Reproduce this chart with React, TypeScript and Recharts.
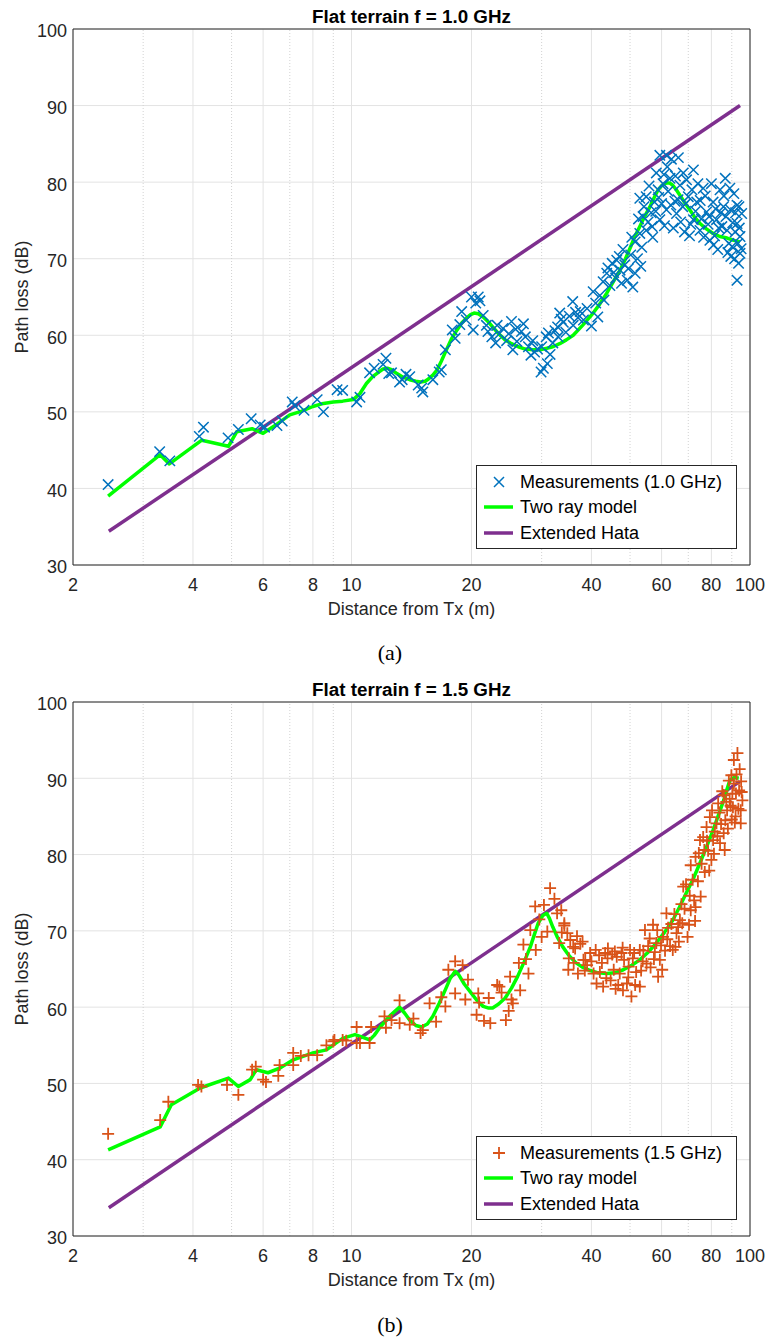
import React from 'react';
import { ComposedChart, Scatter, Line, XAxis, YAxis, CartesianGrid, ReferenceLine } from 'recharts';

// Path loss vs distance, flat terrain, 1.0 GHz (a) and 1.5 GHz (b).
// Each point is [distance m, path loss dB].

const xTicks = [2, 4, 6, 8, 10, 20, 40, 60, 80, 100];
const xMinor = [3, 5, 7, 9, 30, 50, 70, 90];
const yTicks = [30, 40, 50, 60, 70, 80, 90, 100];

const meas10: [number, number][] = [
  [2.45, 40.5], [3.3, 44.8], [3.5, 43.6], [4.15, 46.8], [4.25, 48.0], [4.9, 46.6], [5.2, 47.7], [5.6, 49.1],
  [5.9, 48.3], [6.05, 48.0], [6.5, 48.2], [6.7, 48.8], [7.1, 51.3], [7.2, 50.8], [7.6, 50.2], [8.2, 51.6],
  [8.5, 50.0], [9.2, 52.9], [9.5, 52.8], [10.3, 51.3], [10.5, 51.9], [11.1, 55.1], [11.4, 55.7], [12.0, 56.2],
  [12.2, 57.0], [12.4, 55.0], [12.6, 55.1], [13.2, 53.9], [13.4, 54.2], [13.7, 54.9], [14.0, 54.6], [14.7, 53.5],
  [15.0, 53.1], [15.1, 52.6], [16.0, 54.2], [16.6, 55.2], [16.8, 55.5], [17.2, 58.1], [17.9, 60.7], [18.2, 59.6],
  [18.7, 61.4], [18.9, 63.1], [19.4, 62.0], [20.0, 65.0], [20.2, 60.7], [20.5, 64.2], [20.8, 65.0], [21.0, 64.5],
  [21.4, 62.6], [21.8, 61.3], [22.0, 60.5], [22.5, 59.8], [23.0, 59.0], [23.2, 61.3], [23.5, 60.2], [24.0, 60.9],
  [24.5, 59.3], [24.8, 60.2], [25.2, 61.8], [25.4, 58.1], [25.8, 60.8], [26.0, 59.2], [26.7, 60.5], [27.0, 61.5],
  [27.3, 59.8], [27.8, 58.5], [28.2, 57.4], [28.5, 59.3], [28.8, 57.8], [29.3, 58.2], [29.9, 55.2], [30.0, 58.5],
  [30.3, 55.7], [30.8, 59.8], [31.0, 56.3], [31.2, 60.3], [31.5, 57.5], [32.0, 59.0], [32.4, 60.6], [32.9, 61.1],
  [33.0, 59.8], [33.3, 62.9], [33.6, 62.1], [34.0, 61.7], [34.5, 60.4], [35.2, 62.5], [35.9, 64.4], [36.0, 61.3],
  [36.5, 63.0], [37.0, 62.3], [37.5, 63.1], [38.2, 62.0], [39.0, 63.5], [40.0, 61.2], [40.4, 65.7], [41.0, 64.2],
  [41.5, 62.4], [42.0, 65.2], [42.8, 67.0], [43.0, 64.6], [43.7, 68.1], [44.0, 68.8], [44.5, 66.5], [45.1, 69.4],
  [45.5, 68.2], [46.0, 67.5], [46.3, 69.8], [47.0, 70.3], [47.2, 68.5], [47.6, 66.8], [48.0, 71.2], [48.5, 69.2],
  [49.2, 67.2], [49.5, 68.7], [50.2, 70.5], [50.5, 72.8], [50.8, 66.3], [51.5, 72.2], [51.5, 68.1], [52.2, 70.0],
  [52.5, 75.2], [52.9, 73.3], [52.9, 77.9], [53.2, 69.0], [53.5, 71.5], [53.9, 75.5], [54.2, 76.8], [54.9, 78.1],
  [54.9, 73.7], [55.5, 74.8], [55.8, 79.5], [56.5, 76.0], [56.8, 74.2], [57.0, 72.8], [57.6, 77.4], [58.0, 76.2],
  [58.2, 81.2], [58.8, 79.0], [59.0, 78.0], [59.4, 83.5], [59.4, 75.1], [60.0, 77.2], [60.5, 79.8], [60.8, 81.0],
  [61.0, 74.3], [61.7, 83.5], [61.7, 76.4], [62.0, 82.0], [62.3, 78.8], [63.0, 80.5], [63.3, 77.0], [63.5, 83.0],
  [64.2, 74.0], [64.8, 77.5], [65.0, 80.8], [65.4, 75.9], [66.0, 77.7], [66.1, 83.2], [66.7, 79.6], [67.0, 74.8],
  [67.8, 76.8], [68.0, 81.2], [68.5, 73.5], [69.0, 77.2], [69.3, 80.3], [70.0, 78.1], [70.5, 73.0], [71.0, 74.5],
  [71.5, 79.0], [72.1, 81.6], [72.1, 75.1], [73.0, 76.2], [73.5, 77.4], [74.0, 79.8], [74.9, 73.7], [75.0, 77.6],
  [75.5, 75.2], [76.3, 79.2], [76.5, 72.8], [77.2, 78.2], [77.8, 76.1], [78.5, 74.5], [79.0, 75.5], [79.3, 72.4],
  [80.0, 79.8], [80.8, 77.4], [81.0, 71.8], [81.5, 73.0], [82.0, 76.5], [82.4, 75.1], [83.0, 71.2], [83.5, 74.0],
  [84.1, 79.0], [84.5, 76.0], [85.0, 74.2], [85.8, 76.8], [86.0, 78.2], [86.7, 80.5], [87.0, 75.5], [87.6, 73.7],
  [88.0, 70.8], [88.5, 72.0], [89.0, 79.2], [89.3, 76.4], [89.5, 70.3], [90.2, 71.6], [90.5, 74.7], [91.1, 78.5],
  [91.5, 70.0], [91.8, 73.5], [92.0, 76.0], [92.8, 74.6], [92.8, 67.2], [92.8, 77.0], [93.2, 72.0], [93.6, 69.4],
  [93.8, 76.8], [94.0, 74.0], [94.4, 72.9], [94.4, 70.7], [95.0, 71.3], [95.3, 75.9],
];

const tworay10: [number, number][] = [
  [2.45, 39.0], [3.31, 44.4], [3.49, 43.2], [4.21, 46.3], [4.91, 45.5], [5.15, 47.4], [5.63, 47.8], [6.0, 47.2],
  [6.5, 48.4], [7.0, 49.6], [7.5, 50.1], [8.0, 50.7], [8.5, 51.1], [9.0, 51.3], [9.5, 51.4], [10.1, 51.6],
  [10.5, 52.4], [10.9, 53.7], [11.3, 54.6], [11.7, 55.2], [12.0, 55.6], [12.3, 55.7], [12.6, 55.5], [13.0, 55.0],
  [13.5, 54.5], [14.0, 54.2], [14.5, 54.0], [14.9, 53.9], [15.3, 54.0], [15.6, 54.3], [16.0, 54.8], [16.4, 55.5],
  [16.8, 56.6], [17.3, 58.1], [17.8, 59.5], [18.4, 60.7], [18.9, 61.6], [19.4, 62.2], [19.9, 62.7], [20.3, 62.9],
  [20.8, 62.8], [21.4, 62.4], [22.0, 61.8], [22.6, 61.1], [23.4, 60.2], [24.3, 59.4], [25.2, 58.9], [26.2, 58.5],
  [27.3, 58.2], [28.5, 58.1], [29.7, 58.1], [30.9, 58.3], [32.0, 58.5], [33.3, 58.9], [34.6, 59.4], [36.0, 60.0],
  [38.0, 61.3], [40.4, 62.9], [42.0, 64.1], [43.7, 65.5], [45.4, 67.0], [47.2, 68.5], [48.7, 70.0], [50.2, 71.6],
  [51.5, 73.0], [52.9, 74.2], [54.5, 75.6], [56.1, 76.8], [57.5, 78.0], [58.8, 79.0], [60.2, 79.6], [61.7, 79.9],
  [62.8, 79.9], [64.0, 79.6], [65.3, 79.0], [66.7, 78.3], [68.6, 77.3], [70.6, 76.4], [72.7, 75.4], [74.9, 74.6],
  [77.7, 73.9], [80.8, 73.3], [84.0, 72.9], [87.6, 72.7], [91.0, 72.4], [94.4, 72.2],
];

const hata10: [number, number][] = [[2.46, 34.4], [94.4, 90.0]];

const meas15: [number, number][] = [
  [2.45, 43.4], [3.31, 45.2], [3.47, 47.6], [4.12, 49.8], [4.2, 49.6], [4.87, 49.8], [5.2, 48.5], [5.63, 51.8],
  [5.75, 52.2], [6.0, 50.5], [6.1, 50.2], [6.55, 51.0], [6.6, 52.4], [7.14, 54.0], [7.14, 52.4], [7.46, 53.6],
  [7.8, 53.7], [8.2, 53.7], [8.65, 55.0], [9.0, 55.5], [9.06, 55.7], [9.5, 55.7], [9.7, 55.6], [10.3, 57.4],
  [10.3, 55.3], [10.5, 55.3], [11.1, 55.3], [11.2, 57.4], [12.1, 58.8], [12.2, 57.3], [12.6, 58.3], [13.2, 60.9],
  [13.2, 57.9], [14.0, 57.7], [14.3, 58.5], [14.9, 56.6], [15.1, 57.0], [15.7, 60.5], [16.3, 58.1], [16.8, 61.3],
  [17.2, 60.1], [17.5, 64.9], [18.2, 66.0], [19.0, 65.5], [18.2, 61.8], [19.3, 61.0], [19.6, 63.6], [20.8, 61.8],
  [20.9, 60.6], [20.6, 59.0], [21.5, 58.2], [22.1, 61.2], [22.3, 57.9], [23.2, 62.9], [23.5, 62.7], [23.8, 61.9],
  [24.4, 58.3], [24.8, 59.5], [25.2, 61.0], [25.4, 60.5], [25.0, 64.0], [26.3, 65.8], [26.5, 62.2], [27.4, 66.3],
  [27.8, 64.4], [27.0, 68.2], [28.1, 70.1], [28.9, 73.2], [29.0, 67.5], [29.6, 71.5], [30.0, 69.2], [30.4, 73.4],
  [31.5, 75.6], [31.0, 69.9], [32.3, 74.2], [32.8, 72.3], [33.2, 68.4], [33.6, 72.7], [33.7, 69.8], [34.2, 70.7],
  [34.2, 71.0], [34.8, 69.7], [35.1, 66.4], [35.4, 68.8], [35.0, 64.9], [36.0, 67.9], [36.1, 65.8], [36.4, 67.7],
  [36.8, 69.3], [37.0, 64.4], [37.5, 68.3], [38.0, 68.6], [38.2, 66.2], [38.5, 64.8], [38.6, 66.2], [39.0, 65.5],
  [39.7, 67.1], [40.0, 66.0], [40.5, 64.4], [41.0, 67.5], [41.2, 63.1], [41.8, 66.8], [42.0, 64.6], [42.5, 65.8],
  [42.8, 62.7], [43.3, 67.1], [43.6, 63.8], [43.9, 66.4], [44.0, 67.7], [44.7, 63.5], [45.1, 66.9], [45.5, 64.9],
  [45.8, 67.3], [46.0, 62.4], [46.3, 66.6], [46.7, 62.9], [47.1, 64.4], [47.6, 67.1], [47.9, 67.8], [48.0, 62.2],
  [48.3, 66.2], [49.1, 63.1], [49.5, 63.9], [49.6, 65.3], [50.0, 67.5], [50.4, 61.4], [50.8, 66.4], [51.2, 67.1],
  [51.5, 62.9], [51.8, 64.6], [52.9, 62.7], [52.9, 67.5], [53.3, 64.8], [53.8, 66.0], [54.0, 67.4], [54.5, 70.1],
  [55.0, 65.7], [55.5, 68.0], [56.0, 69.0], [56.3, 65.2], [57.1, 70.8], [57.4, 66.3], [57.7, 67.2], [58.2, 68.4],
  [58.5, 70.1], [58.8, 64.0], [59.4, 66.2], [59.8, 68.1], [60.2, 64.9], [60.5, 69.2], [61.2, 67.4], [61.7, 72.3],
  [62.0, 68.9], [62.3, 70.4], [63.0, 68.0], [63.5, 70.9], [64.0, 67.5], [64.6, 72.2], [65.0, 67.9], [65.4, 69.7],
  [66.0, 70.5], [66.3, 68.6], [66.7, 71.4], [67.3, 73.5], [67.6, 71.0], [68.0, 75.8], [68.5, 72.9], [69.1, 76.1],
  [69.7, 69.2], [70.3, 70.8], [70.6, 74.6], [71.0, 72.7], [71.0, 78.6], [71.8, 76.7], [72.4, 74.0], [72.8, 71.3],
  [73.0, 73.1], [73.0, 79.7], [74.0, 76.5], [74.4, 80.2], [74.9, 81.9], [75.2, 74.5], [75.6, 78.8], [76.3, 82.3],
  [76.8, 80.6], [77.0, 77.7], [77.8, 83.6], [78.0, 81.8], [78.5, 80.5], [79.0, 77.9], [79.3, 84.9], [80.0, 79.3],
  [80.3, 85.8], [80.8, 81.9], [81.2, 80.1], [81.6, 83.0], [82.4, 84.1], [82.8, 82.4], [83.2, 86.7], [83.8, 85.5],
  [84.1, 81.5], [84.6, 84.0], [85.2, 88.3], [85.9, 82.8], [86.0, 87.8], [86.4, 80.6], [86.7, 84.5], [87.2, 86.9],
  [87.6, 85.8], [88.0, 83.4], [88.5, 89.7], [88.9, 87.3], [89.4, 86.4], [89.8, 90.4], [90.0, 84.6], [90.3, 88.0],
  [90.6, 86.2], [91.1, 92.4], [91.1, 89.3], [91.6, 84.2], [92.0, 85.0], [92.2, 88.0], [92.5, 90.5], [93.0, 93.3],
  [93.5, 86.0], [93.9, 88.4], [94.2, 91.2], [94.8, 85.8], [94.8, 84.1], [95.0, 89.6], [95.3, 88.2], [95.7, 87.1],
];

const tworay15: [number, number][] = [
  [2.45, 41.3], [3.31, 44.3], [3.53, 47.2], [4.17, 49.4], [4.91, 50.7], [5.2, 49.6], [5.57, 50.5], [5.77, 51.8],
  [6.17, 51.4], [6.6, 52.0], [7.14, 53.1], [8.0, 54.0], [8.65, 54.4], [9.5, 55.9], [10.2, 56.4], [10.6, 56.1],
  [11.1, 55.7], [11.4, 56.3], [11.8, 57.4], [12.5, 58.9], [13.2, 60.0], [13.6, 59.2], [14.0, 58.3], [14.5, 57.6],
  [15.0, 57.4], [15.5, 57.8], [16.0, 58.8], [16.6, 60.5], [17.2, 62.3], [17.7, 63.8], [18.2, 64.7], [18.6, 64.2],
  [19.2, 63.0], [20.0, 61.8], [20.7, 60.8], [21.4, 60.1], [22.0, 59.9], [22.6, 59.9], [23.4, 60.4], [24.3, 61.2],
  [25.2, 62.5], [26.1, 64.0], [27.1, 65.9], [28.1, 67.9], [28.8, 69.6], [29.4, 71.0], [30.2, 72.0], [30.9, 72.3],
  [31.4, 71.6], [32.0, 70.5], [32.9, 69.1], [33.9, 67.9], [35.2, 66.7], [36.6, 65.8], [38.1, 65.2], [39.7, 64.8],
  [41.6, 64.5], [43.7, 64.4], [45.8, 64.5], [48.1, 64.9], [50.5, 65.5], [52.9, 66.2], [55.5, 67.2], [58.2, 68.4],
  [61.0, 69.8], [64.0, 71.4], [66.5, 73.1], [69.1, 74.9], [72.0, 76.8], [74.9, 78.9], [77.8, 81.0], [80.8, 83.2],
  [83.5, 85.3], [86.0, 87.2], [87.6, 88.6], [89.1, 89.8], [91.3, 90.1], [93.7, 90.0],
];

const hata15: [number, number][] = [[2.46, 33.7], [94.4, 89.6]];

const toPts = (a: [number, number][]) => a.map(([d, v]) => ({ d, v }));

const AXIS = '#262626';
const FONT = '"Liberation Sans", Arial, Helvetica, sans-serif';

function xShape(color: string) {
  return (p: any) => {
    const { cx, cy } = p;
    const r = 5.2;
    return (
      <path
        d={`M${cx - r},${cy - r}L${cx + r},${cy + r}M${cx - r},${cy + r}L${cx + r},${cy - r}`}
        stroke={color}
        strokeWidth={1.5}
        fill="none"
      />
    );
  };
}

function plusShape(color: string) {
  return (p: any) => {
    const { cx, cy } = p;
    const r = 6;
    return (
      <path d={`M${cx - r},${cy}L${cx + r},${cy}M${cx},${cy - r}L${cx},${cy + r}`} stroke={color} strokeWidth={1.8} fill="none" />
    );
  };
}

function LegendBox({ top, label, marker, color }: { top: number; label: string; marker: 'x' | '+'; color: string }) {
  const rows = [
    { name: label, kind: marker },
    { name: 'Two ray model', kind: 'green' },
    { name: 'Extended Hata', kind: 'purple' },
  ];
  return (
    <div
      style={{
        position: 'absolute', left: 476, top, width: 259, height: 82, background: '#fff',
        border: `1px solid ${AXIS}`, fontFamily: FONT, fontSize: 18, color: '#000',
      }}
    >
      {rows.map((r, i) => (
        <div key={r.name} style={{ position: 'absolute', left: 0, top: 6 + i * 25.3, height: 20, lineHeight: '20px', width: 258 }}>
          <svg width={32} height={20} style={{ position: 'absolute', left: 6, top: 0 }}>
            {r.kind === 'x' && <path d="M11,5L21,15M11,15L21,5" stroke={color} strokeWidth={1.5} fill="none" />}
            {r.kind === '+' && <path d="M10,10L22,10M16,4L16,16" stroke={color} strokeWidth={1.8} fill="none" />}
            {r.kind === 'green' && <line x1={1} x2={30} y1={10} y2={10} stroke="#00ff00" strokeWidth={3.5} />}
            {r.kind === 'purple' && <line x1={1} x2={30} y1={10} y2={10} stroke="#7e2f8e" strokeWidth={3.5} />}
          </svg>
          <span style={{ position: 'absolute', left: 43, top: 0, whiteSpace: 'nowrap' }}>{r.name}</span>
        </div>
      ))}
    </div>
  );
}

function PathLossChart(props: {
  top: number;
  plotBottom: number;
  title: string;
  meas: [number, number][];
  tworay: [number, number][];
  hata: [number, number][];
  marker: 'x' | '+';
  color: string;
  legendLabel: string;
  legendTop: number;
}) {
  const H = 640;
  const xCommon = {
    type: 'number' as const,
    scale: 'log' as const,
    domain: [2, 100],
    ticks: xTicks,
    allowDataOverflow: true,
  };
  const yCommon = {
    type: 'number' as const,
    domain: [30, 100],
    ticks: yTicks,
    allowDataOverflow: true,
  };
  return (
    <div style={{ position: 'absolute', left: 0, top: props.top, width: 767, height: H }}>
      <div
        style={{
          position: 'absolute', left: 73, width: 677, top: 8, textAlign: 'center', fontFamily: FONT,
          fontWeight: 'bold', fontSize: 18.8, lineHeight: '18px', color: '#000', whiteSpace: 'nowrap',
        }}
      >
        {props.title}
      </div>
      <ComposedChart
        width={767}
        height={H}
        margin={{ top: 29, right: 17, left: 13, bottom: H - props.plotBottom - 30 }}
        style={{ fontFamily: FONT }}
      >
        <CartesianGrid stroke="#e3e3e3" strokeWidth={1} />
        {xMinor.map((m) => (
          <ReferenceLine key={m} x={m} stroke="#d2d2d2" strokeDasharray="1 2" strokeWidth={1} />
        ))}
        <XAxis
          {...xCommon}
          dataKey="d"
          height={30}
          stroke={AXIS}
          tickLine={false}
          tickSize={5}
          tickMargin={8}
          tick={{ fontSize: 18, fill: AXIS }}
          label={{ value: 'Distance from Tx (m)', position: 'bottom', offset: 7, fontSize: 18, fill: AXIS }}
        />
        <XAxis {...xCommon} xAxisId="bin" orientation="bottom" mirror axisLine={false} tick={false} tickSize={5} stroke={AXIS} />
        <XAxis {...xCommon} xAxisId="top" orientation="top" mirror tick={false} tickSize={5} stroke={AXIS} />
        <YAxis
          {...yCommon}
          dataKey="v"
          width={60}
          stroke={AXIS}
          tickLine={false}
          tickSize={3}
          tickMargin={3}
          tick={{ fontSize: 18, fill: AXIS, dy: 2 }}
          label={{
            value: 'Path loss (dB)', angle: -90, position: 'insideLeft', offset: 9, fontSize: 18, fill: AXIS,
            style: { textAnchor: 'middle' },
          }}
        />
        <YAxis {...yCommon} yAxisId="lin" orientation="left" mirror axisLine={false} tick={false} tickSize={5} stroke={AXIS} />
        <YAxis {...yCommon} yAxisId="right" orientation="right" mirror tick={false} tickSize={5} stroke={AXIS} />
        <Scatter
          data={toPts(props.meas)}
          dataKey="v"
          shape={props.marker === 'x' ? xShape(props.color) : plusShape(props.color)}
          isAnimationActive={false}
        />
        <Line
          data={toPts(props.hata)}
          dataKey="v"
          type="linear"
          stroke="#7e2f8e"
          strokeWidth={3.5}
          dot={false}
          activeDot={false}
          isAnimationActive={false}
        />
        <Line
          data={toPts(props.tworay)}
          dataKey="v"
          type="linear"
          stroke="#00ff00"
          strokeWidth={3.5}
          strokeLinejoin="round"
          dot={false}
          activeDot={false}
          isAnimationActive={false}
        />
      </ComposedChart>
      <LegendBox top={props.legendTop} label={props.legendLabel} marker={props.marker} color={props.color} />
    </div>
  );
}

export default function App() {
  return (
    <div style={{ position: 'absolute', left: 0, top: 0, width: 767, height: 1342, background: '#fff' }}>
      <PathLossChart
        top={0}
        plotBottom={565}
        title="Flat terrain f = 1.0 GHz"
        meas={meas10}
        tworay={tworay10}
        hata={hata10}
        marker="x"
        color="#0072bd"
        legendLabel="Measurements (1.0 GHz)"
        legendTop={465}
      />
      <div
        style={{
          position: 'absolute', left: 340, width: 100, top: 640, textAlign: 'center',
          fontFamily: '"Liberation Serif", "Times New Roman", serif', fontSize: 22, lineHeight: '26px',
        }}
      >
        (a)
      </div>
      <PathLossChart
        top={673}
        plotBottom={563}
        title="Flat terrain f = 1.5 GHz"
        meas={meas15}
        tworay={tworay15}
        hata={hata15}
        marker="+"
        color="#d95319"
        legendLabel="Measurements (1.5 GHz)"
        legendTop={463}
      />
      <div
        style={{
          position: 'absolute', left: 340, width: 100, top: 1312, textAlign: 'center',
          fontFamily: '"Liberation Serif", "Times New Roman", serif', fontSize: 22, lineHeight: '26px',
        }}
      >
        (b)
      </div>
    </div>
  );
}
